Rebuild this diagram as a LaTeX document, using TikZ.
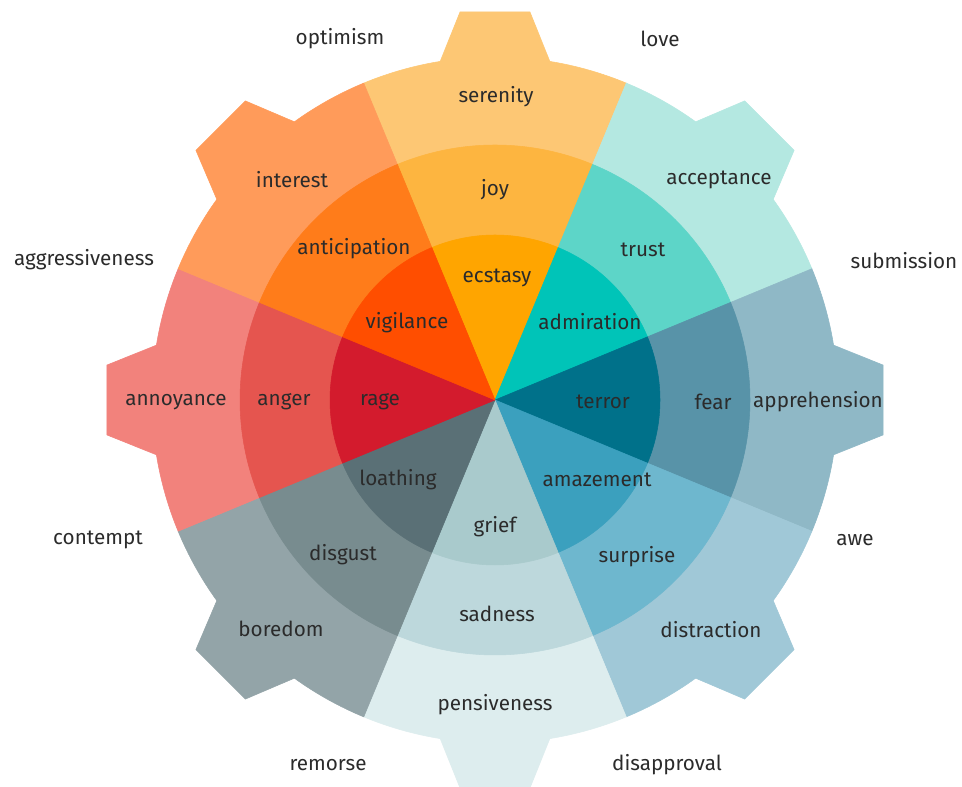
\documentclass[tikz,border=0pt]{standalone}
\usepackage{fontspec}
\setmainfont{Fira Sans}
\definecolor{txt}{HTML}{2B2B2B}
% joy
\definecolor{serC}{HTML}{FDC774}\definecolor{joyC}{HTML}{FDB540}\definecolor{ecsC}{HTML}{FFA500}
% trust
\definecolor{accC}{HTML}{B4E8E1}\definecolor{truC}{HTML}{5DD5C8}\definecolor{admC}{HTML}{00C4B8}
% fear
\definecolor{appC}{HTML}{8FB8C6}\definecolor{feaC}{HTML}{5893A8}\definecolor{terC}{HTML}{00718A}
% surprise
\definecolor{disC}{HTML}{A0C8D7}\definecolor{surC}{HTML}{6EB7CE}\definecolor{amaC}{HTML}{3BA0BE}
% sadness
\definecolor{penC}{HTML}{DDEDEE}\definecolor{sadC}{HTML}{BDD8DC}\definecolor{griC}{HTML}{A9CACC}
% disgust
\definecolor{borC}{HTML}{93A4A8}\definecolor{dgsC}{HTML}{788C8F}\definecolor{loaC}{HTML}{5A7076}
% anger
\definecolor{annC}{HTML}{F2827C}\definecolor{angC}{HTML}{E5554F}\definecolor{ragC}{HTML}{D31B2D}
% anticipation
\definecolor{intC}{HTML}{FF9B5A}\definecolor{antC}{HTML}{FF7C1A}\definecolor{vigC}{HTML}{FF4E00}
\begin{document}
\begin{tikzpicture}[x=0.75pt,y=0.75pt,
  lbl/.style={font=\fontsize{15.5}{18}\selectfont, text=txt, inner sep=0pt},
  seg/.style={fill=#1, draw=#1, line width=0.4pt, line join=round}]
\useasboundingbox (0,0) rectangle (962,787);
\fill[white] (0,0) rectangle (962,787);
\begin{scope}[shift={(495,387)}]
\foreach \a/\co/\cm/\ci in {90/serC/joyC/ecsC, 45/accC/truC/admC, 0/appC/feaC/terC, -45/disC/surC/amaC, -90/penC/sadC/griC, -135/borC/dgsC/loaC, 180/annC/angC/ragC, 135/intC/antC/vigC}{
  \path[seg=\co] (0,0) -- (\a-22.5:343) arc[start angle=\a-22.5, end angle=\a-9.2, radius=343]
     -- (\a-5.15:389.6) -- (\a+5.15:389.6) -- (\a+9.2:343)
     arc[start angle=\a+9.2, end angle=\a+22.5, radius=343] -- cycle;
}
\foreach \a/\co/\cm/\ci in {90/serC/joyC/ecsC, 45/accC/truC/admC, 0/appC/feaC/terC, -45/disC/surC/amaC, -90/penC/sadC/griC, -135/borC/dgsC/loaC, 180/annC/angC/ragC, 135/intC/antC/vigC}{
  \path[seg=\cm] (0,0) -- (\a-22.5:255) arc[start angle=\a-22.5, end angle=\a+22.5, radius=255] -- cycle;
}
\foreach \a/\co/\cm/\ci in {90/serC/joyC/ecsC, 45/accC/truC/admC, 0/appC/feaC/terC, -45/disC/surC/amaC, -90/penC/sadC/griC, -135/borC/dgsC/loaC, 180/annC/angC/ragC, 135/intC/antC/vigC}{
  \path[seg=\ci] (0,0) -- (\a-22.5:165) arc[start angle=\a-22.5, end angle=\a+22.5, radius=165] -- cycle;
}
\end{scope}
\begin{scope}[yshift=-1.5]
% outside labels (y = 787 - pixel y)
\node[lbl] (optimism) at (340,750) {optimism};
\node[lbl] (love) at (660,750) {love};
\node[lbl] (aggr) at (84,529) {aggressiveness};
\node[lbl] (subm) at (904,528) {submission};
\node[lbl] (cont) at (98,249) {contempt};
\node[lbl] (awe) at (855,249) {awe};
\node[lbl] (remo) at (328,24) {remorse};
\node[lbl] (disa) at (667,24) {disapproval};
% outer ring
\node[lbl] (serenity) at (496,692) {serenity};
\node[lbl] (acceptance) at (719,609) {acceptance};
\node[lbl] (apprehension) at (818,387) {apprehension};
\node[lbl] (distraction) at (711,159) {distraction};
\node[lbl] (pensiveness) at (495,84) {pensiveness};
\node[lbl] (boredom) at (281,160) {boredom};
\node[lbl] (annoyance) at (176,387) {annoyance};
\node[lbl] (interest) at (292,609) {interest};
% middle ring
\node[lbl] (joy) at (495,599) {joy};
\node[lbl] (trust) at (643,539) {trust};
\node[lbl] (fear) at (713,387) {fear};
\node[lbl] (surprise) at (637,232) {surprise};
\node[lbl] (sadness) at (497,175) {sadness};
\node[lbl] (disgust) at (343,234) {disgust};
\node[lbl] (anger) at (284,387) {anger};
\node[lbl] (anticipation) at (354,540) {anticipation};
% inner ring
\node[lbl] (ecstasy) at (497,511) {ecstasy};
\node[lbl] (admiration) at (590,467) {admiration};
\node[lbl] (terror) at (603,387) {terror};
\node[lbl] (amazement) at (597,309) {amazement};
\node[lbl] (grief) at (495,262) {grief};
\node[lbl] (loathing) at (398,309) {loathing};
\node[lbl] (rage) at (380,387) {rage};
\node[lbl] (vigilance) at (407,466) {vigilance};
\end{scope}
\end{tikzpicture}
\end{document}
